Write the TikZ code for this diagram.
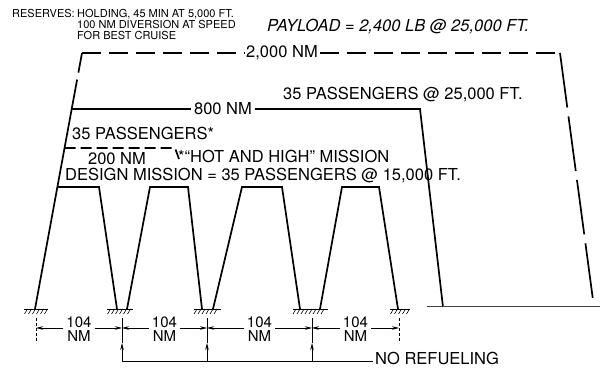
\documentclass[tikz,border=0pt]{standalone}
\usepackage{fontspec}
\setmainfont{TeX Gyre Heros}
\usetikzlibrary{arrows.meta, calc}

\begin{document}
\begin{tikzpicture}[x=1pt, y=-1pt, >={Stealth[length=7pt, width=3.5pt]},
  perfil/.style={line width=1.7pt},
  cota/.style={line width=0.7pt},
  rot/.style={font=\fontsize{16.5}{18}\selectfont, inner sep=0pt},
  rotchico/.style={font=\fontsize{11}{12}\selectfont, inner sep=0pt, anchor=base west},
  dimlbl/.style={font=\fontsize{15}{14}\selectfont, align=center, inner sep=3pt}]
  \useasboundingbox (0,0) rectangle (600,371);
  % puntos del perfil (y hacia abajo, en px)
  \coordinate (S0) at (35,309);
  \coordinate (A1) at (57.4,187);  \coordinate (B1) at (99,187);  \coordinate (S1) at (117,309);
  \coordinate (S1b) at (127,309);  \coordinate (A2) at (150,187); \coordinate (B2) at (188,187); \coordinate (S2) at (202,309);
  \coordinate (S2b) at (213,309);  \coordinate (A3) at (242,187); \coordinate (B3) at (282,187); \coordinate (S3) at (300,309);
  \coordinate (S3b) at (320,309);  \coordinate (A4) at (342,187); \coordinate (B4) at (379,187); \coordinate (S4) at (398,309);
  \coordinate (H) at (64.6,148);   \coordinate (HR) at (175,148); \coordinate (HD) at (179,159);
  \coordinate (C800) at (71.7,109);  \coordinate (R800) at (420,109);  \coordinate (T800) at (443,307);
  \coordinate (C2000) at (82,53);    \coordinate (R2000) at (560,53);  \coordinate (T2000) at (593,300);
  \coordinate (GL) at (427,307);   \coordinate (GR) at (600,307);
  % textos de las misiones
  \node[rotchico] (res) at (12,18) {RESERVES:};
  \node[rotchico] (hold) at (77,18) {HOLDING, 45 MIN AT 5,000 FT.};
  \node[rotchico] (div) at (77,29) {100 NM DIVERSION AT SPEED};
  \node[rotchico] (cruise) at (77,40) {FOR BEST CRUISE};
  \node[rot, anchor=base west] (carga) at (267,32) {\itshape PAYLOAD = 2,400 LB @ 25,000 FT.};
  \node[rot, inner xsep=2pt] (n2000) at (282,53) {2,000 NM};
  \node[rot, anchor=base west] (pas25) at (283,100) {35 PASSENGERS @ 25,000 FT.};
  \node[rot, inner xsep=3pt] (n800) at (223,109) {800 NM};
  \node[rot, anchor=base west] (pas35) at (72,140) {35 PASSENGERS*};
  \node[rot, anchor=base] (n200) at (117,165) {200 NM};
  \node[rot, anchor=base west] (hot) at (178,163) {*“HOT AND HIGH” MISSION};
  \node[rot, anchor=base west] (diseno) at (65,181) {DESIGN MISSION = 35 PASSENGERS @ 15,000 FT.};
  % perfiles de vuelo
  \draw[perfil] (S0) -- (C800);
  \draw[perfil, dash pattern=on 20pt off 7pt on 60pt off 0pt] (C2000) -- (C800);
  \draw[perfil] (A1) -- (B1) -- (S1) (S1b) -- (A2) -- (B2) -- (S2)
    (S2b) -- (A3) -- (B3) -- (S3) (S3b) -- (A4) -- (B4) -- (S4);
  \draw[perfil, dash pattern=on 11pt off 5pt] (H) -- (HR) -- (HD);
  \draw[perfil] (C800) -- (n800.west |- C800) (n800.east |- C800) -- (R800) -- (T800);
  \draw[perfil, dash pattern=on 19pt off 8pt] (C2000) -- (n2000.west |- C2000) (n2000.east |- C2000) -- (R2000);
  \draw[perfil, dash pattern=on 55pt off 9pt] (R2000) -- (T2000);
  \draw[line width=1pt, black!75] (GL) -- (GR);
  % suelo de las estaciones
  \foreach \x/\w in {36/24, 120/26, 207/27, 310/35, 400/20} {
    \draw[cota] ({\x-\w/2},309) -- ({\x+\w/2},309);
    \pgfmathtruncatemacro{\n}{\w/4}
    \foreach \k in {1,...,\n}
      \draw[line width=0.6pt] ({\x-\w/2+4*\k-3.5},314) -- ++(3,-5);
  }
  % cotas de 104 NM
  \coordinate (d0) at (36,328);  \coordinate (d1) at (122,328);
  \coordinate (d2) at (207,328); \coordinate (d3) at (312,328);
  \coordinate (d4) at (399,328);
  \draw[cota, densely dashed] (d0) ++(0,-10) -- ++(0,25) (d4) ++(0,-10) -- ++(0,25);
  \foreach \i in {1,2,3}
    \draw[cota] (d\i) ++(0,-10) -- ++(0,25);
  \foreach \i [evaluate=\i as \j using int(\i+1)] in {0,1,2,3} {
    \node[dimlbl] (L\i) at ($(d\i)!0.5!(d\j)+(0,1.5)$) {104\\NM};
    \draw[cota, ->] (L\i.west |- d\i) -- (d\i);
    \draw[cota, ->] (L\i.east |- d\i) -- (d\j);
  }
  % sin reabastecimiento
  \coordinate (r1) at (122,361); \coordinate (r2) at (207,361); \coordinate (r3) at (312,361);
  \node[rot, anchor=base west] (noref) at (375,365) {NO REFUELING};
  \draw[cota] (r1) -- ($(noref.west |- r1)+(-2,0)$);
  \foreach \i in {1,2,3}
    \draw[cota, ->] (r\i) -- ($(d\i)+(0,15)$);
\end{tikzpicture}
\end{document}
